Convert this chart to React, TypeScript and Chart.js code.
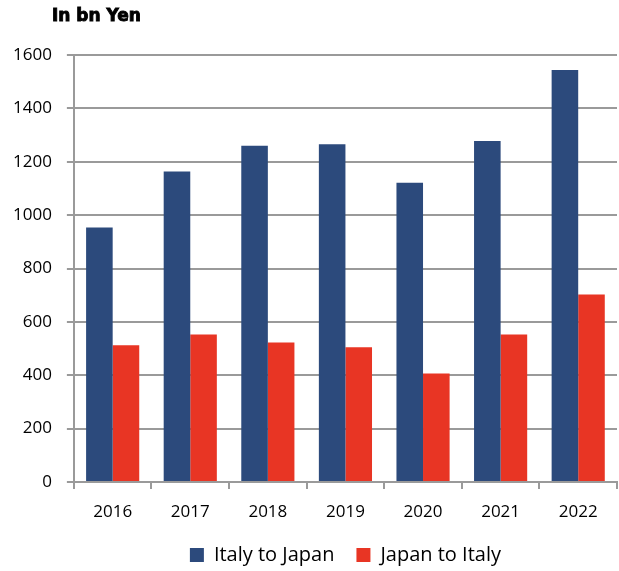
import React, { useEffect, useRef } from "react";
import { Chart, registerables } from "chart.js";

Chart.register(...registerables);

const titleText = "In bn Yen";
const categories = ["2016", "2017", "2018", "2019", "2020", "2021", "2022"];
const italyToJapan = [954, 1163, 1260, 1266, 1121, 1278, 1544];
const japanToItaly = [512, 553, 523, 505, 407, 553, 703];
const seriesNames = ["Italy to Japan", "Japan to Italy"];

const BLUE = "#2c4a7c";
const RED = "#e83524";
const GRID = "#9a9a9a";

const titlePlugin = {
  id: "cornerTitle",
  afterDraw(chart: any) {
    const { ctx, chartArea } = chart;
    ctx.save();
    ctx.font = "bold 17px 'DejaVu Sans'";
    ctx.fillStyle = "#000";
    ctx.strokeStyle = "#000";
    ctx.lineWidth = 0.9;
    ctx.textBaseline = "alphabetic";
    ctx.textAlign = "left";
    ctx.fillText(titleText, chartArea.left - 22, 21);
    ctx.strokeText(titleText, chartArea.left - 22, 21);
    ctx.restore();
  },
};

export default function App() {
  const ref = useRef<HTMLCanvasElement | null>(null);
  useEffect(() => {
    if (!ref.current) return;
    const chart = new Chart(ref.current, {
      type: "bar",
      data: {
        labels: categories,
        datasets: [
          { label: seriesNames[0], data: italyToJapan, backgroundColor: BLUE, categoryPercentage: 0.685, barPercentage: 1.0 },
          { label: seriesNames[1], data: japanToItaly, backgroundColor: RED, categoryPercentage: 0.685, barPercentage: 1.0 },
        ],
      },
      options: {
        animation: false,
        responsive: false,
        maintainAspectRatio: false,
        layout: { padding: { top: 55, right: 2, left: -2, bottom: -4 } },
        plugins: {
          legend: {
            position: "bottom",
            fullSize: false,
            labels: {
              boxWidth: 14,
              boxHeight: 14,
              padding: 22,
              color: "#000",
              font: { family: "'Open Sans'", size: 20 },
            },
          },
          tooltip: { enabled: false },
          title: { display: false },
        },
        scales: {
          x: {
            afterFit: (scale: any) => {
              scale.height = 41;
            },
            grid: { display: true, drawOnChartArea: false, drawTicks: true, tickLength: 7, color: GRID, lineWidth: 2 },
            border: { color: GRID, width: 2 },
            ticks: { color: "#000", font: { family: "'Open Sans'", size: 17 }, padding: 13 },
          },
          y: {
            min: 0,
            max: 1600,
            ticks: {
              stepSize: 200,
              color: "#000",
              font: { family: "'Open Sans'", size: 17 },
              padding: 15,
              callback: (v: any) => String(v),
            },
            grid: { color: GRID, lineWidth: 2, tickLength: 7 },
            border: { color: GRID, width: 2 },
          },
        },
      },
      plugins: [titlePlugin],
    });
    return () => chart.destroy();
  }, []);
  return (
    <div style={{ position: "fixed", left: 0, top: 0, width: 619, height: 571, background: "#fff" }}>
      <canvas ref={ref} width={619} height={571} style={{ width: 619, height: 571 }} />
    </div>
  );
}
